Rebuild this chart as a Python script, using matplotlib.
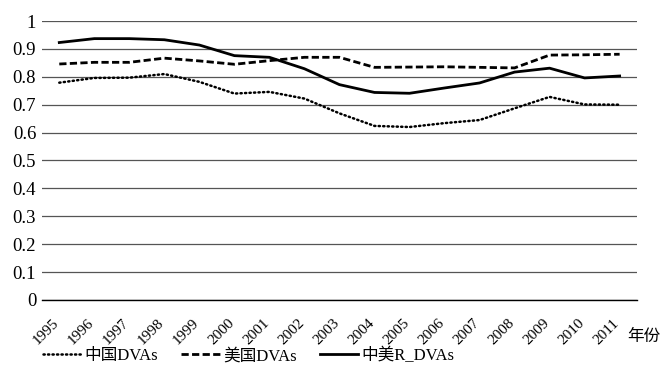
import matplotlib
matplotlib.use("Agg")
import matplotlib.pyplot as plt
import matplotlib.transforms as mtransforms

plt.rcParams['font.family'] = ['Liberation Serif', 'Noto Sans CJK SC']

# --------------------
# DATA
# --------------------
years = ['1995', '1996', '1997', '1998', '1999', '2000', '2001', '2002', '2003',
         '2004', '2005', '2006', '2007', '2008', '2009', '2010', '2011']
cn_dvas = [0.779, 0.796, 0.797, 0.810, 0.782, 0.740, 0.746, 0.722, 0.669,
           0.624, 0.620, 0.634, 0.645, 0.687, 0.728, 0.701, 0.700]
us_dvas = [0.846, 0.852, 0.852, 0.867, 0.857, 0.845, 0.858, 0.870, 0.870,
           0.834, 0.835, 0.836, 0.834, 0.832, 0.878, 0.879, 0.881]
r_dvas = [0.923, 0.937, 0.937, 0.933, 0.914, 0.876, 0.870, 0.829, 0.772,
          0.744, 0.741, 0.760, 0.778, 0.817, 0.831, 0.796, 0.803]
yticks = [0, 0.1, 0.2, 0.3, 0.4, 0.5, 0.6, 0.7, 0.8, 0.9, 1]
ytick_labels = ['0', '0.1', '0.2', '0.3', '0.4', '0.5', '0.6', '0.7', '0.8', '0.9', '1']

# --------------------
# PLOTTING
# --------------------
fig = plt.figure(figsize=(6.63, 3.83), dpi=100)
ax = fig.add_axes([0.063, 0.217, 0.898, 0.728])

x = list(range(len(years)))
l1, = ax.plot(x, cn_dvas, color='black', lw=1.8, linestyle=(0, (0.5, 1.3)),
              dash_capstyle='round')
l2, = ax.plot(x, us_dvas, color='black', lw=2.0, linestyle=(0, (2.6, 1.2)))
l3, = ax.plot(x, r_dvas, color='black', lw=2.0, linestyle='-')

ax.set_xlim(-0.5, 16.5)
ax.set_ylim(0, 1)
ax.set_yticks(yticks)
ax.set_yticklabels(ytick_labels, fontsize=13.5)
ax.set_xticks(x)
ax.set_xticklabels(years, rotation=45, ha='right', va='top', fontsize=11,
                   rotation_mode='anchor')
ax.tick_params(axis='both', length=0, pad=4)
ax.tick_params(axis='x', pad=12)
# nudge the rotated year labels left so they sit under their ticks
shift = mtransforms.ScaledTranslation(-5 / 72, 0, fig.dpi_scale_trans)
for lab in ax.get_xticklabels():
    lab.set_transform(lab.get_transform() + shift)

ax.grid(axis='y', color='#555555', lw=0.9)
ax.set_axisbelow(True)
for s in ['top', 'right', 'left']:
    ax.spines[s].set_visible(False)
ax.spines['bottom'].set_color('black')
ax.spines['bottom'].set_linewidth(1.0)

fig.text(0.946, 0.12, '年份', fontsize=12, ha='left', va='center')

fig.legend([l1, l2, l3], ['中国DVAs', '美国DVAs', '中美R_DVAs'],
           loc='center', bbox_to_anchor=(0.375, 0.07), ncol=3, frameon=False,
           fontsize=12, handlelength=2.3, handletextpad=0.2, columnspacing=1.4)

fig.savefig("out.png", dpi=100)
